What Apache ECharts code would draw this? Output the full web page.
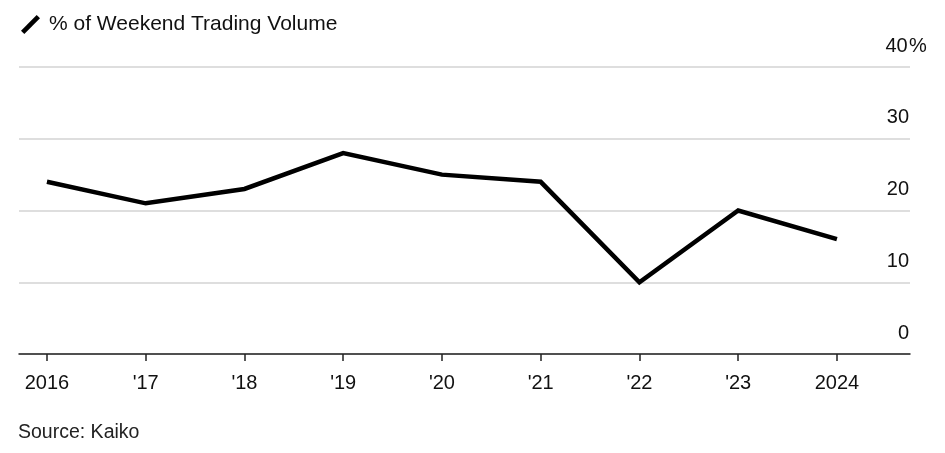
<!DOCTYPE html>
<html><head><meta charset="utf-8">
<script src="https://cdn.jsdelivr.net/npm/echarts@6/dist/echarts.min.js"></script>
<style>html,body{margin:0;padding:0;background:#fff}#c{width:945px;height:453px}</style>
</head><body><div id="c"></div>
<script>
const years = [2016, 2017, 2018, 2019, 2020, 2021, 2022, 2023, 2024];
const yearLabels = ['2016', "'17", "'18", "'19", "'20", "'21", "'22", "'23", '2024'];
const weekendShare = [24, 21, 23, 28, 25, 24, 10, 20, 16];
const yTicks = [0, 10, 20, 30, 40];
const seriesName = '% of Weekend Trading Volume';
const sourceText = 'Source: Kaiko';

const font = 'Liberation Sans, Arial, Helvetica, sans-serif';
const chart = echarts.init(document.getElementById('c'));
chart.setOption({
  animation: false,
  textStyle: { fontFamily: font },
  title: [{ text: sourceText, left: 13, top: 418, textStyle: { fontSize: 19.5, fontWeight: 'normal', color: '#222', fontFamily: font } }],
  legend: {
    left: 16, top: 9, itemWidth: 19, itemHeight: 19, itemGap: 10,
    icon: 'path://M0,16.5 L3.5,20 L20,3.5 L16.5,0 Z',
    textStyle: { fontSize: 21, color: '#111', fontFamily: font, padding: [0, 0, 0, 4] },
    data: [{ name: seriesName, itemStyle: { color: '#000' } }]
  },
  grid: { left: 19, right: 35, top: 67, bottom: 99, containLabel: false },
  xAxis: {
    type: 'value', min: 2015.717, max: 2024.74,
    splitLine: { show: false },
    axisLine: { show: true, lineStyle: { color: '#222', width: 1.5 } },
    axisTick: { show: true, customValues: years, length: 7, lineStyle: { color: '#222', width: 1.5 } },
    axisLabel: {
      customValues: years, margin: 19, fontSize: 20, color: '#111', fontFamily: font,
      formatter: v => yearLabels[years.indexOf(Math.round(v))] || ''
    }
  },
  yAxis: {
    type: 'value', position: 'right', min: 0, max: 40, interval: 10,
    axisLine: { show: false }, axisTick: { show: false },
    splitLine: { lineStyle: { color: '#dedede', width: 2 } },
    axisLabel: {
      margin: -26, align: 'left', verticalAlign: 'bottom', padding: [0, 0, 11, 0],
      color: '#111', fontSize: 20, fontFamily: font,
      formatter: v => v === yTicks[yTicks.length - 1] ? '{n|' + v + '}{p|%}' : '{n|' + v + '}',
      rich: {
        n: { width: 25, align: 'right', fontSize: 20, color: '#111', fontFamily: font },
        p: { fontSize: 20, color: '#111', fontFamily: font }
      }
    }
  },
  series: [{
    name: seriesName, type: 'line', symbol: 'none',
    lineStyle: { color: '#000', width: 4.5, join: 'miter' },
    itemStyle: { color: '#000' },
    data: years.map((y, i) => [y, weekendShare[i]])
  }]
});
</script></body></html>
